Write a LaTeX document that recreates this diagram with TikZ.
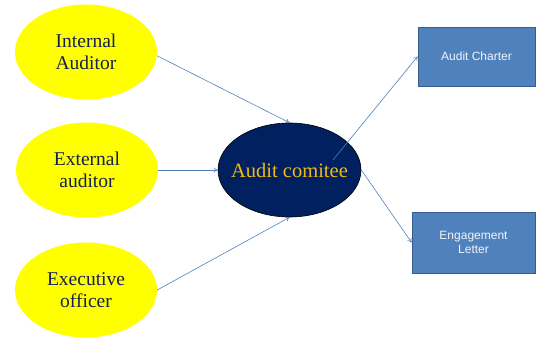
\documentclass[tikz,border=0pt]{standalone}
\usepackage{fontspec}
\setmainfont{Liberation Serif}
\newfontfamily\boxfont{Liberation Sans}
\definecolor{partyellow}{RGB}{255, 255, 0}
\definecolor{partnavy}{RGB}{20, 32, 78}
\definecolor{comnavy}{RGB}{0, 32, 96}
\definecolor{comgold}{RGB}{240, 185, 20}
\definecolor{docblue}{RGB}{79, 129, 189}
\definecolor{docedge}{RGB}{56, 93, 138}
\usetikzlibrary{shapes.geometric, arrows.meta, positioning}

\begin{document}
\begin{tikzpicture}[x=1pt, y=-1pt,
  party/.style={ellipse, fill=partyellow, minimum width=142pt, minimum height=95pt, inner sep=0pt,
    align=center, text=partnavy, font=\fontsize{19.5}{22.5}\selectfont},
  doc/.style={rectangle, draw=docedge, line width=0.8pt, fill=docblue, text=white!92!docblue, align=center,
    inner sep=0pt, font=\boxfont\fontsize{12}{14.5}\selectfont},
  link/.style={draw=docblue, line width=0.6pt, -{To[length=4pt, width=5pt]}}]
  \useasboundingbox (0,0) rectangle (537,339);

  % who reports to the committee
  \node[party] (internal) at (86,52) {Internal\\Auditor};
  \node[party] (external) at (87,170) {External\\auditor};
  \node[party] (executive) at (86,290) {Executive\\officer};

  % the committee
  \node[ellipse, draw=black, line width=0.6pt, fill=comnavy, minimum width=143pt, minimum height=94pt,
    inner xsep=-10pt, inner ysep=0pt, text=comgold, font=\fontsize{20.5}{24}\selectfont] (committee) at (289.5,170) {Audit comitee};

  % what it puts out
  \node[doc, minimum width=117pt, minimum height=59pt] (charter) at (476.5,56.5) {Audit Charter};
  \node[doc, minimum width=123pt, minimum height=61pt] (letter) at (473.5,242.5) {Engagement\\Letter};

  \coordinate (charterstart) at (333,160);

  \draw[link] (internal.-3) -- (committee.north);
  \draw[link] (external.east) -- (committee.west);
  \draw[link] (executive.east) -- (committee.south);
  \draw[link] (charterstart) -- (charter.west);
  \draw[link] (committee.east) -- (letter.west);
\end{tikzpicture}
\end{document}
